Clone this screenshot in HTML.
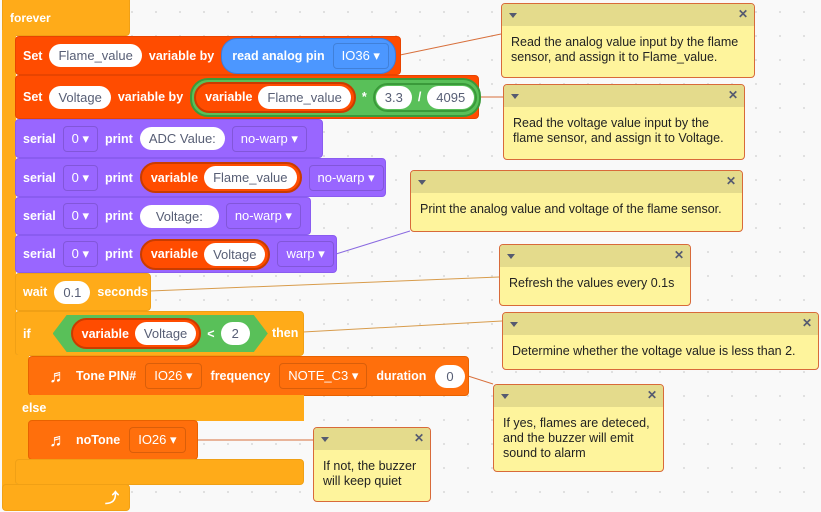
<!DOCTYPE html>
<html><head><meta charset="utf-8"><style>
body{margin:0;width:821px;height:512px;overflow:hidden;background:#f9f9f9;background-image:radial-gradient(#d8d8d8 1px,transparent 1px);background-size:24px 24px;font-family:"Liberation Sans",Arial,sans-serif;position:relative}
.b{position:absolute;box-sizing:border-box;display:flex;align-items:center;gap:7px;padding-left:7px;color:#fff;font-size:12.5px;font-weight:bold;border-radius:4px;white-space:nowrap}
.red{background:#ff4c00;border:1px solid #e84400}
.pur{background:#9966ff;border:1px solid #8a5cf0}
.org{background:#ffab19;border:1px solid #f0a015}
.ton{background:#ff6f0c;border:1px solid #e86200}
.p{background:#fff;color:#575e75;font-weight:normal;border-radius:12px;padding:4px 9px;font-size:13px}
.d{border:1px solid rgba(0,0,0,.15);border-radius:4px;padding:4px 8px;font-size:13px;font-weight:normal}
.d:after{content:" \25BE"}
.rv{background:#ff4c00;border:2px solid #c93c00;border-radius:16px;padding:2px 3px 2px 9px;display:flex;align-items:center;gap:6px}
.c{position:absolute;box-sizing:border-box;border:1px solid #d86a3a;border-radius:4px;background:#fef49c;font-size:12.5px;color:#222;overflow:hidden}
.c .h{height:22px;background:#e4db8c;position:relative}
.c .h:before{content:"";position:absolute;left:7px;top:9px;border:4px solid transparent;border-top:5px solid #555a70}
.c .h:after{content:"\2715";position:absolute;right:6px;top:3px;font-size:12px;font-weight:bold;color:#555a70}
.c .t{padding:9px 9px;line-height:15px}
</style></head><body>
<svg width="821" height="512" style="position:absolute;left:0;top:0">
<g stroke="#d8703c" stroke-width="1" fill="none">
<line x1="400" y1="55" x2="501" y2="34"/>
<line x1="478" y1="97" x2="503" y2="97"/>
<line x1="150" y1="291" x2="499" y2="277" stroke="#d89c4c"/>
<line x1="303" y1="332" x2="502" y2="321" stroke="#d89c4c"/>
<line x1="468" y1="376" x2="493" y2="384"/>
<line x1="197" y1="440" x2="313" y2="440"/>
</g>
<line x1="336" y1="254" x2="410" y2="231" stroke="#8a6ae0"/>
</svg>
<!-- forever -->
<div class="b org" style="left:2px;top:-6px;width:128px;height:42px;align-items:flex-end;padding-bottom:10px;font-size:12px">forever</div>
<div style="position:absolute;left:2px;top:30px;width:14px;height:460px;background:#ffab19"></div>
<div class="b org" style="left:2px;top:484px;width:128px;height:27px;justify-content:flex-end;padding-right:10px;font-size:14px">⤴</div>
<!-- set flame -->
<div class="b red" style="left:15px;top:36px;width:386px;height:39px">Set <span class="p">Flame_value</span> variable by
<span style="background:#4c97ff;border-radius:16px;padding:4px 6px 4px 10px;display:flex;align-items:center;gap:8px;border:1px solid #3a7de0">read analog pin <span class="d">IO36</span></span></div>
<!-- set voltage -->
<div class="b red" style="left:15px;top:75px;width:464px;height:44px">Set <span class="p">Voltage</span> variable by
<span style="background:#59c059;border:2px solid #3a9a3a;border-radius:18px;padding:2px;display:flex;align-items:center;gap:6px">
<span class="rv">variable <span class="p">Flame_value</span></span> * <span style="border:2px solid #3a9a3a;border-radius:16px;padding:1px;display:flex;gap:6px;align-items:center"><span class="p">3.3</span>/<span class="p">4095</span></span></span></div>
<!-- serial rows -->
<div class="b pur" style="left:15px;top:119px;width:308px;height:39px">serial <span class="d">0</span> print <span class="p">ADC Value:</span> <span class="d">no-warp</span></div>
<div class="b pur" style="left:15px;top:158px;width:371px;height:39px">serial <span class="d">0</span> print <span class="rv">variable <span class="p">Flame_value</span></span><span class="d">no-warp</span></div>
<div class="b pur" style="left:15px;top:197px;width:296px;height:38px">serial <span class="d">0</span> print <span class="p" style="padding:4px 16px">Voltage:</span> <span class="d">no-warp</span></div>
<div class="b pur" style="left:15px;top:235px;width:322px;height:38px">serial <span class="d">0</span> print <span class="rv">variable <span class="p">Voltage</span></span><span class="d">warp</span></div>
<!-- wait -->
<div class="b org" style="left:15px;top:273px;width:136px;height:38px">wait <span class="p">0.1</span> seconds</div>
<!-- if -->
<div class="b org" style="left:15px;top:311px;width:289px;height:45px;gap:22px">if
<span style="display:flex;align-items:center;gap:6px;background:#59c059;padding:3px 18px;clip-path:polygon(14px 0,calc(100% - 14px) 0,100% 50%,calc(100% - 14px) 100%,14px 100%,0 50%)"><span class="rv">variable <span class="p">Voltage</span></span> &lt; <span class="p" style="padding:4px 11px">2</span></span></div>
<div style="position:absolute;left:272px;top:326px;color:#fff;font-weight:bold;font-size:12.5px">then</div>
<div style="position:absolute;left:15px;top:355px;width:14px;height:120px;background:#ffab19"></div>
<div class="b ton" style="left:28px;top:356px;width:441px;height:40px;gap:9px;padding-left:20px"><span style="font-size:18px">♬</span> Tone PIN# <span class="d">IO26</span> frequency <span class="d">NOTE_C3</span> duration <span class="p" style="padding:4px 11px">0</span></div>
<div class="b org" style="left:15px;top:395px;width:289px;height:26px;border-radius:0;border:none">else</div>
<div class="b ton" style="left:28px;top:420px;width:170px;height:40px;gap:9px;padding-left:20px"><span style="font-size:18px">♬</span> noTone <span class="d">IO26</span></div>
<div class="b org" style="left:15px;top:459px;width:289px;height:26px"></div>
<!-- comments -->
<div class="c" style="left:501px;top:3px;width:254px;height:75px"><div class="h"></div><div class="t">Read the analog value input by the flame sensor, and assign it to Flame_value.</div></div>
<div class="c" style="left:503px;top:84px;width:242px;height:76px"><div class="h"></div><div class="t">Read the voltage value input by the flame sensor, and assign it to Voltage.</div></div>
<div class="c" style="left:410px;top:170px;width:333px;height:62px"><div class="h"></div><div class="t">Print the analog value and voltage of the flame sensor.</div></div>
<div class="c" style="left:499px;top:244px;width:192px;height:62px"><div class="h"></div><div class="t">Refresh the values every 0.1s</div></div>
<div class="c" style="left:502px;top:312px;width:317px;height:58px"><div class="h"></div><div class="t">Determine whether the voltage value is less than 2.</div></div>
<div class="c" style="left:493px;top:384px;width:171px;height:88px"><div class="h"></div><div class="t">If yes, flames are deteced, and the buzzer will emit sound to alarm</div></div>
<div class="c" style="left:313px;top:427px;width:118px;height:75px"><div class="h"></div><div class="t">If not, the buzzer will keep quiet</div></div>
</body></html>
